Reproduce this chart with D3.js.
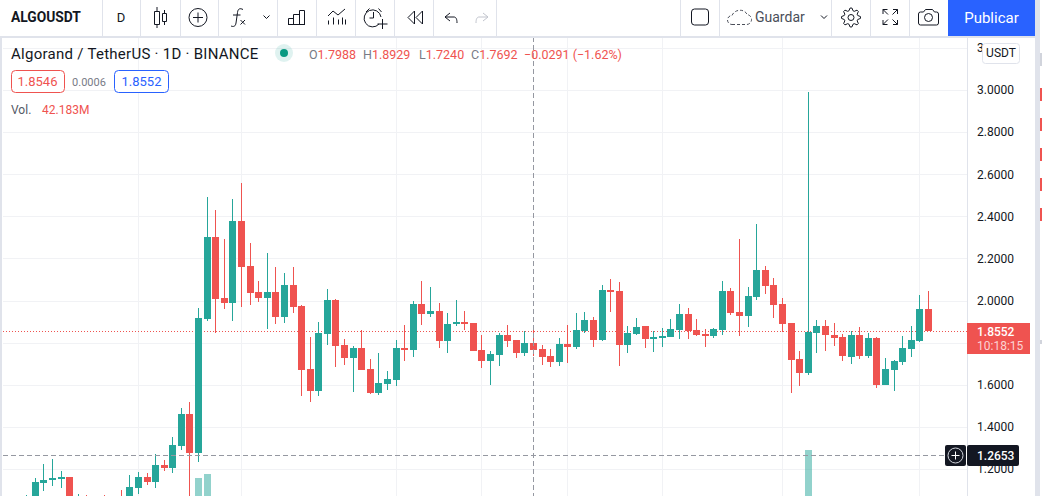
<!DOCTYPE html>
<html>
<head>
<meta charset="utf-8">
<script src="https://cdn.jsdelivr.net/npm/d3@7"></script>
<style>
  html, body { margin: 0; padding: 0; background: #fff; overflow: hidden; }
  svg { display: block; }
  text { font-family: Roboto, "Noto Sans", sans-serif; }
</style>
</head>
<body>
<script>
// daily candles, oldest first (the oldest ones run below the frame)
var opens = [0.98,1.04,1.134,1.148,1.153,1.163,1.03,1.04,0.99,1.03,0.98,1.04,1.03,1.110,1.163,1.139,1.219,1.205,1.310,1.462,
  1.276,1.913,2.302,2.012,1.989,2.378,2.164,2.041,2.012,2.041,1.922,2.074,1.974,1.675,1.571,1.841,2.003,1.789,1.727,1.775,
  1.675,1.561,1.604,1.623,1.775,1.765,1.984,1.936,1.951,1.808,1.889,1.898,1.894,1.765,1.713,1.742,1.837,1.813,1.751,1.799,
  1.770,1.737,1.708,1.794,1.780,1.856,1.908,1.813,2.050,2.046,1.789,1.841,1.879,1.818,1.822,1.827,1.860,1.936,1.860,1.841,
  1.832,1.860,2.046,1.946,1.927,2.017,2.145,2.074,1.984,1.894,1.723,1.656,1.846,1.879,1.837,1.827,1.732,1.837,1.737,1.822,
  1.599,1.671,1.708,1.770,1.808,1.960];
var highs = [1.077,1.158,1.224,1.248,1.191,1.163,1.082,1.077,1.05,1.077,1.05,1.101,1.172,1.186,1.182,1.272,1.243,1.352,1.490,1.519,
  1.965,2.492,2.430,2.293,2.482,2.558,2.274,2.093,2.226,2.160,2.131,2.160,1.979,1.827,1.898,2.055,2.008,1.818,1.784,1.860,
  1.723,1.751,1.666,1.813,1.884,1.998,2.093,2.065,1.989,1.941,2.003,1.951,1.894,1.837,1.761,1.846,1.884,1.813,1.856,1.870,
  1.789,1.770,1.822,1.884,1.941,1.946,1.922,2.074,2.103,2.088,1.879,1.917,1.879,1.856,1.870,1.913,1.984,1.965,1.913,1.865,
  1.870,2.093,2.060,2.293,2.065,2.364,2.164,2.107,2.012,1.894,1.761,2.99,1.908,1.908,1.894,1.841,1.856,1.875,1.846,1.827,
  1.727,1.718,1.832,1.879,2.027,2.046];
var lows = [0.96,1.02,1.096,1.120,1.110,1.01,1.0,0.99,0.97,0.98,0.96,0.98,1.01,1.082,1.125,1.110,1.191,1.182,1.291,1.04,
  1.234,1.903,1.846,1.960,1.903,1.970,1.979,1.993,1.865,1.889,1.894,1.941,1.547,1.519,1.547,1.789,1.685,1.694,1.566,1.671,
  1.557,1.552,1.576,1.595,1.713,1.732,1.884,1.922,1.775,1.751,1.879,1.860,1.761,1.680,1.599,1.689,1.780,1.727,1.737,1.737,
  1.694,1.685,1.689,1.704,1.770,1.846,1.780,1.808,1.946,1.689,1.751,1.837,1.775,1.756,1.780,1.827,1.818,1.818,1.832,1.780,
  1.822,1.837,1.932,1.832,1.875,2.003,2.031,1.917,1.851,1.561,1.595,1.647,1.751,1.761,1.784,1.713,1.699,1.723,1.727,1.585,
  1.599,1.571,1.694,1.732,1.803,1.856];
var closes = [1.04,1.139,1.148,1.158,1.163,1.03,1.05,1.01,1.02,1.0,1.02,1.0,1.115,1.163,1.139,1.219,1.205,1.314,1.462,1.276,
  1.917,2.302,2.008,1.989,2.378,2.160,2.036,2.012,2.041,1.922,2.074,1.970,1.671,1.571,1.846,2.003,1.784,1.727,1.775,1.671,
  1.561,1.609,1.628,1.775,1.765,1.984,1.936,1.951,1.808,1.889,1.898,1.889,1.761,1.713,1.746,1.837,1.808,1.751,1.799,1.765,
  1.732,1.708,1.794,1.780,1.860,1.908,1.813,2.050,2.041,1.789,1.846,1.875,1.818,1.827,1.832,1.865,1.936,1.856,1.837,1.832,
  1.865,2.046,1.941,1.927,2.022,2.145,2.069,1.979,1.889,1.718,1.656,1.851,1.879,1.837,1.822,1.737,1.837,1.737,1.822,1.599,
  1.675,1.713,1.775,1.813,1.960,1.855];

// the only volume bars that reach into the frame (bar number, millions)
var volumeBars = [20, 21, 91];
var volumeValues = [240, 263, 400];

var priceTicks = [1.2, 1.4, 1.6, 1.8, 2.0, 2.2, 2.4, 2.6, 2.8, 3.0, 3.2];
// 1.8 sits under the last price label, so it only gets a grid line
var labelTicks = [1.2, 1.4, 1.6, 2.0, 2.2, 2.4, 2.6, 2.8, 3.0, 3.2];
var monthBars = [13, 25, 43, 53, 63, 74, 88, 104];
var crosshairBar = 59;
var crosshairPrice = 1.2653;
var lastPrice = 1.8552;

var svgWidth = 1042;
var svgHeight = 496;
var green = "#26a69a";
var red = "#ef5350";
var border = "#e0e3eb";
var gridColor = "#f1f2f5";
var textColor = "#131722";
var axisX = 967;

var svg = d3.select("body").append("svg")
  .attr("width", svgWidth)
  .attr("height", svgHeight);

svg.append("rect").attr("width", svgWidth).attr("height", svgHeight).attr("fill", "#fff");

// bar numbers to x, calibrated on the first and last candle
var x = d3.scaleLinear().domain([0, 105]).range([26.8, 928.5]);
var y = d3.scaleLinear().domain([1.2, 3.0]).range([469, 90]);
var yVol = d3.scaleLinear().domain([0, 400]).range([520, 450]);

var px = function(i) { return Math.floor(x(i)); };
var py = function(v) { return Math.round(y(v)); };

var plot = svg.append("g").attr("shape-rendering", "crispEdges");

// grid
plot.selectAll(".hgrid").data(priceTicks).enter().append("line")
  .attr("x1", 3).attr("x2", axisX)
  .attr("y1", d => py(d) + 0.5).attr("y2", d => py(d) + 0.5)
  .attr("stroke", gridColor);

plot.selectAll(".vgrid").data(monthBars).enter().append("line")
  .attr("x1", d => px(d) + 0.5).attr("x2", d => px(d) + 0.5)
  .attr("y1", 37).attr("y2", svgHeight)
  .attr("stroke", gridColor);

// volume
plot.selectAll(".vol").data(volumeBars).enter().append("rect")
  .attr("x", d => px(d) - 3)
  .attr("width", 7)
  .attr("y", (d, i) => yVol(volumeValues[i]))
  .attr("height", (d, i) => yVol(0) - yVol(volumeValues[i]))
  .attr("fill", green)
  .attr("fill-opacity", 0.5);

// last price line
plot.append("line")
  .attr("x1", 3).attr("x2", axisX)
  .attr("y1", py(lastPrice) + 0.5).attr("y2", py(lastPrice) + 0.5)
  .attr("stroke", red)
  .attr("stroke-dasharray", "1,2");

// candles
var candle = plot.selectAll(".candle").data(opens).enter().append("g");
var candleColor = (d, i) => closes[i] >= d ? green : red;

candle.append("rect")
  .attr("x", (d, i) => px(i))
  .attr("width", 1)
  .attr("y", (d, i) => py(highs[i]))
  .attr("height", (d, i) => py(lows[i]) - py(highs[i]))
  .attr("fill", candleColor);

candle.append("rect")
  .attr("x", (d, i) => px(i) - 3)
  .attr("width", 7)
  .attr("y", (d, i) => py(Math.max(d, closes[i])))
  .attr("height", (d, i) => Math.max(1, py(Math.min(d, closes[i])) - py(Math.max(d, closes[i]))))
  .attr("fill", candleColor);

// crosshair
plot.append("line")
  .attr("x1", px(crosshairBar) + 0.5).attr("x2", px(crosshairBar) + 0.5)
  .attr("y1", 37).attr("y2", svgHeight)
  .attr("stroke", "#9598a1")
  .attr("stroke-dasharray", "5,3");

plot.append("line")
  .attr("x1", 3).attr("x2", 945)
  .attr("y1", py(crosshairPrice) + 0.5).attr("y2", py(crosshairPrice) + 0.5)
  .attr("stroke", "#9598a1")
  .attr("stroke-dasharray", "5,3");

// price axis, the top label only shows its first digit next to the USDT button
var axis = d3.axisRight(y)
  .tickValues(labelTicks)
  .tickFormat(d => d === 3.2 ? "3" : d3.format(".4f")(d))
  .tickSize(0)
  .tickPadding(10);

var axisG = svg.append("g")
  .attr("transform", "translate(" + axisX + ",0)")
  .call(axis);

axisG.select(".domain").remove();
axisG.selectAll("text")
  .attr("font-size", 12)
  .attr("fill", textColor)
  .attr("font-family", "Roboto, sans-serif");

svg.append("rect").attr("x", axisX).attr("y", 37).attr("width", 1).attr("height", svgHeight - 37)
  .attr("fill", border);

// last price label
svg.append("rect").attr("x", axisX).attr("y", 323).attr("width", 63).attr("height", 31).attr("fill", red);
svg.append("text").attr("x", 977).attr("y", 336).attr("font-size", 12).attr("font-weight", 500)
  .attr("fill", "#fff").text(d3.format(".4f")(lastPrice));
svg.append("text").attr("x", 977).attr("y", 350).attr("font-size", 12)
  .attr("fill", "#fff").attr("fill-opacity", 0.75).text("10:18:15");

// crosshair label
svg.append("rect").attr("x", 945).attr("y", 445).attr("width", 21).attr("height", 21).attr("rx", 2).attr("fill", textColor);
svg.append("rect").attr("x", axisX).attr("y", 445).attr("width", 52).attr("height", 21).attr("rx", 2).attr("fill", textColor);
svg.append("circle").attr("cx", 955.5).attr("cy", 455.5).attr("r", 7.5).attr("fill", "none").attr("stroke", "#d1d4dc");
svg.append("path").attr("d", "M955.5 451.5v8M951.5 455.5h8").attr("stroke", "#fff").attr("fill", "none");
svg.append("text").attr("x", 977).attr("y", 460).attr("font-size", 12).attr("font-weight", 500)
  .attr("fill", "#fff").text(d3.format(".4f")(crosshairPrice));

// currency button
svg.append("rect").attr("x", 982.5).attr("y", 43.5).attr("width", 37).attr("height", 20).attr("rx", 3)
  .attr("fill", "#fff").attr("stroke", border);
svg.append("text").attr("x", 1001).attr("y", 57).attr("text-anchor", "middle").attr("font-size", 12)
  .attr("fill", textColor).text("USDT");

// legend
var addText = function(tx, ty, size, color, str, weight) {
  return svg.append("text").attr("x", tx).attr("y", ty).attr("font-size", size)
    .attr("fill", color).attr("font-weight", weight || 400).text(str);
};

addText(11, 59, 15, textColor, "Algorand / TetherUS · 1D · BINANCE").attr("letter-spacing", 0.27);
svg.append("circle").attr("cx", 284).attr("cy", 53).attr("r", 9).attr("fill", "#26a69a").attr("fill-opacity", 0.15);
svg.append("circle").attr("cx", 284).attr("cy", 53).attr("r", 4).attr("fill", "#089981");

var ohlcLabels = ["O", "H", "L", "C"];
var ohlcValues = ["1.7988", "1.8929", "1.7240", "1.7692"];
var ohlcX = [309, 363, 419, 471];
ohlcLabels.forEach(function(d, i) {
  var t = svg.append("text").attr("x", ohlcX[i]).attr("y", 59).attr("font-size", 12.5).attr("fill", "#787b86");
  t.append("tspan").text(d);
  t.append("tspan").attr("fill", red).text(ohlcValues[i]);
});
addText(524, 59, 12.5, red, "−0.0291 (−1.62%)");

svg.append("rect").attr("x", 11.5).attr("y", 70.5).attr("width", 53).attr("height", 22).attr("rx", 4)
  .attr("fill", "#fff").attr("stroke", red);
addText(37.5, 86, 13, red, "1.8546").attr("text-anchor", "middle");
addText(89, 86, 11, "#787b86", "0.0006").attr("text-anchor", "middle");
svg.append("rect").attr("x", 114.5).attr("y", 70.5).attr("width", 54).attr("height", 22).attr("rx", 4)
  .attr("fill", "#fff").attr("stroke", "#2962ff");
addText(141.5, 86, 13, "#2962ff", "1.8552").attr("text-anchor", "middle");

addText(11, 114, 12, "#555a66", "Vol.");
addText(42, 114, 12, red, "42.183M");

// top toolbar
svg.append("rect").attr("width", svgWidth).attr("height", 36).attr("fill", "#fff");
svg.append("rect").attr("y", 36).attr("width", 1035).attr("height", 2).attr("fill", border);

var toolbarSeps = [102, 140, 180, 218, 277, 316, 355, 394, 433, 496, 680, 719, 831, 870, 909];
svg.selectAll(".sep").data(toolbarSeps).enter().append("rect")
  .attr("x", d => d).attr("y", 0).attr("width", 1).attr("height", 36).attr("fill", border);

svg.append("rect").attr("x", 948).attr("width", 87).attr("height", 36).attr("fill", "#2962ff");
svg.append("text").attr("x", 991.5).attr("y", 23).attr("text-anchor", "middle").attr("font-size", 15)
  .attr("fill", "#fff").text("Publicar");

addText(11, 22, 13.8, textColor, "ALGOUSDT", 700);
addText(121, 22, 13, textColor, "D").attr("text-anchor", "middle");
addText(755, 22, 14, "#4a4e59", "Guardar");

var icons = [
  "M154.5 11.5h5v13h-5zM157 7v4M157 25v3M162.5 13.5h4v8h-4zM164.5 10v3M164.5 22v3", // candles
  "M198 12.5v10M193 17.5h10", // plus of the circle
  "M243 9.5c-3-1.500-5-1-5.500 3l-1.500 10.500c-.5 3.500-2.500 4-5 3M233 15h7.500M240.500 20l4.500 4.500M245 20l-4.500 4.500", // fx
  "M263.500 15.500l3 3 3-3", // chevron
  "M288.500 24.500v-6h5v6M293.500 24.500v-10h6v10M299.500 24.500v-14h5v14M288 24.500h17", // bars
  "M328 16l5-5 5 4 7-6M328.500 24.500v-4M333.500 24.500v-7M338.500 24.500v-5M342.500 24.500v-7M345.500 24.500v-5", // indicators
  "M379 24a8.500 8.500 0 1 1 2-7M373.500 12v6h-4M366 12l3.500-3.500M381.500 12l-3-3.500M382.500 19v10M377.500 24h10", // alert
  "M414.500 11l-6.500 6.500 6.500 6.500zM422.500 11l-6.500 6.500 6.500 6.500z", // replay
  "M450 13l-5 4 5 4M445 17h9c2 0 3 2 3 6", // undo
  "M691.500 12a3 3 0 0 1 3-3h11a3 3 0 0 1 3 3v10a3 3 0 0 1-3 3h-11a3 3 0 0 1-3-3z", // square
  "M821 15.500l3 3 3-3", // chevron
  "M883 14v-4.500h4.500M883 9.500l5 5M897.500 14v-4.500h-4.500M897.500 9.500l-5 5M883 20v4.500h4.500M883 24.500l5-5M897.500 20v4.500h-4.500M897.500 24.500l-5-5", // fullscreen
  "M918.500 14a2 2 0 0 1 2-2h3l2-2.500h7l2 2.500h2a2 2 0 0 1 2 2v9a2 2 0 0 1-2 2h-16a2 2 0 0 1-2-2z" // camera
];

svg.selectAll(".icon").data(icons).enter().append("path")
  .attr("d", d => d)
  .attr("fill", "none")
  .attr("stroke", textColor);

svg.append("circle").attr("cx", 198).attr("cy", 17.5).attr("r", 9).attr("fill", "none").attr("stroke", textColor);
svg.append("circle").attr("cx", 928.5).attr("cy", 17.5).attr("r", 4).attr("fill", "none").attr("stroke", textColor);
svg.append("path").attr("d", "M483 21l5-4-5-4M488 17h-9c-2 0-3 2-3 6").attr("fill", "none").attr("stroke", "#c1c4cd");
svg.append("path")
  .attr("d", "M732 24.500h14a5 5 0 0 0 1-10c-1-3-5-5-9-4-2.500.5-5 2.500-6 5a4.500 4.500 0 0 0 0 9z")
  .attr("fill", "none").attr("stroke", "#4a4e59").attr("stroke-dasharray", "3,2");

// gear outline, alternating tooth and notch radius
var gearRadii = d3.range(32).map(d => (d % 4 < 2) ? 9.5 : 7);
var gearLine = d3.lineRadial()
  .angle((d, i) => (i - 0.5) * Math.PI / 16)
  .radius(d => d)
  .curve(d3.curveLinearClosed);
svg.append("path")
  .attr("transform", "translate(851,17.5)")
  .attr("d", gearLine(gearRadii))
  .attr("fill", "none").attr("stroke", textColor);
svg.append("circle").attr("cx", 851).attr("cy", 17.5).attr("r", 3).attr("fill", "none").attr("stroke", textColor);

// window edges
svg.append("rect").attr("x", 0).attr("y", 38).attr("width", 2).attr("height", svgHeight - 38).attr("fill", border);
svg.append("rect").attr("x", 1035).attr("width", 5).attr("height", svgHeight).attr("fill", border);

var edgeMarks = [88, 118, 148, 178, 208];
svg.selectAll(".edge").data(edgeMarks).enter().append("rect")
  .attr("x", 1040).attr("width", 2).attr("y", d => d).attr("height", 13).attr("fill", red);
svg.append("rect").attr("x", 1040).attr("y", 53).attr("width", 2).attr("height", 13).attr("fill", "#d1d4dc");
svg.append("rect").attr("x", 1040).attr("y", 340).attr("width", 2).attr("height", 4).attr("fill", "#d1d4dc");
</script>
</body>
</html>
